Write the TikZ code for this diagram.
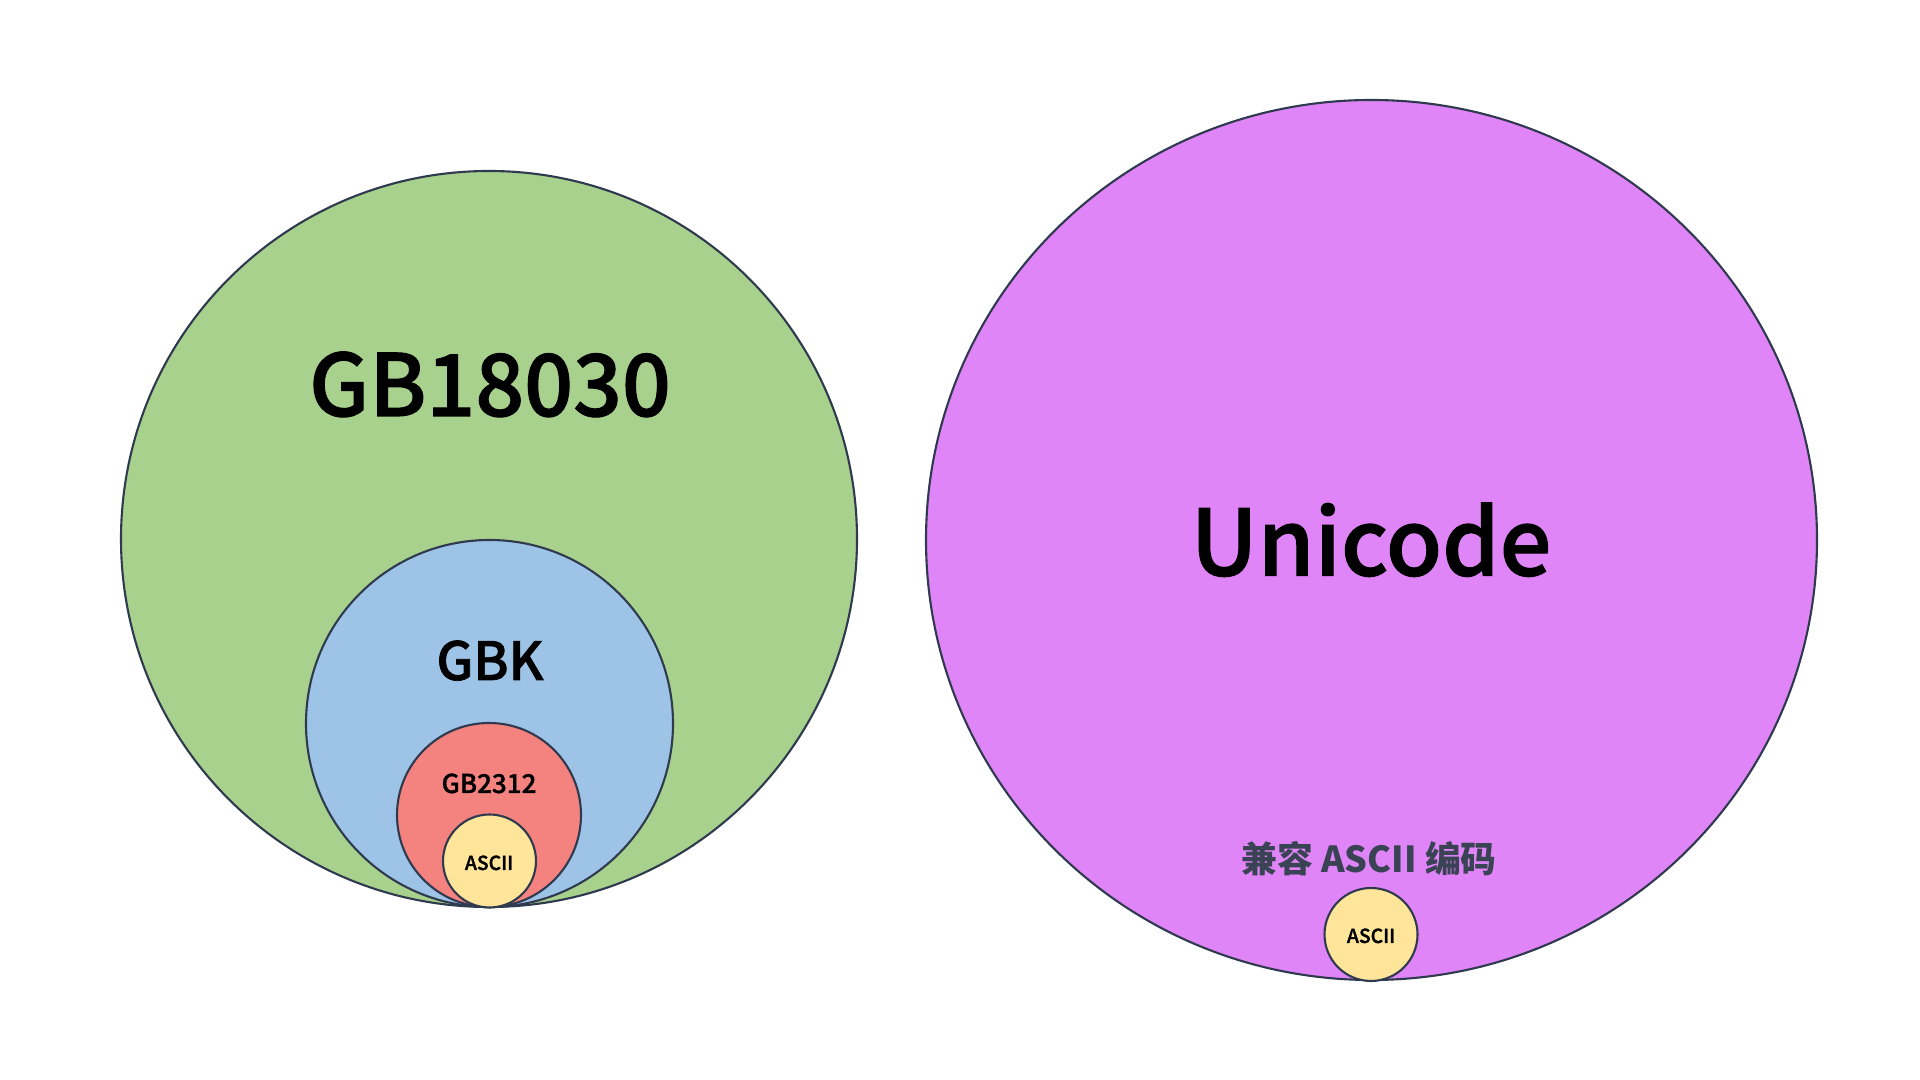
\documentclass[tikz,border=0pt]{standalone}
\usepackage{fontspec}
\setmainfont{Noto Sans CJK SC}
\newfontfamily\medfont{Noto Sans CJK SC Medium}[FakeBold=1.3]
\usepackage{tikz}
\usetikzlibrary{shapes.geometric}
\definecolor{setgreen}{HTML}{A8D18D}
\definecolor{setblue}{HTML}{9DC3E6}
\definecolor{setred}{HTML}{F4827F}
\definecolor{setyellow}{HTML}{FFE599}
\definecolor{setpurple}{HTML}{DF85F7}
\definecolor{setline}{HTML}{2F3A4F}
\definecolor{notegray}{HTML}{3A4354}
\tikzset{
  setcircle/.style={circle, draw=setline, line width=0.6pt, inner sep=0pt, minimum size=#1},
  setname/.style={anchor=base, inner sep=0pt, font=\medfont\fontsize{#1}{#1}\selectfont}
}
\begin{document}
\begin{tikzpicture}
\useasboundingbox (0,0) rectangle (19.2,10.8);

% GB family, nested
\node[setcircle=7.36cm, fill=setgreen] (gb18030) at (4.89,5.41) {};
\node[setcircle=3.67cm, fill=setblue] (gbk) at (4.895,3.565) {};
\node[setcircle=1.84cm, fill=setred] (gb2312) at (4.89,2.65) {};
\node[setcircle=0.93cm, fill=setyellow] (asciiL) at (4.895,2.19) {};

% Unicode
\node[ellipse, draw=setline, line width=0.6pt, inner sep=0pt, fill=setpurple,
      minimum width=8.91cm, minimum height=8.80cm] (unicode) at (13.715,5.40) {};
\node[setcircle=0.93cm, fill=setyellow] (asciiR) at (13.71,1.455) {};

% Labels
\node[setname=24.4pt] (lblgb18030) at (4.90,6.64) {GB18030};
\node[setname=15pt] (lblgbk) at (4.90,4.00) {GBK};
\node[setname=7.4pt] (lblgb2312) at (4.89,2.87) {GB2312};
\node[setname=5.5pt] (lblasciiL) at (4.89,2.10) {ASCII};
\node[setname=26pt] (lblunicode) at (13.71,5.045) {Unicode};
\node[anchor=base, inner sep=0pt, text=notegray, font=\bfseries\fontsize{10.2pt}{10.2pt}\selectfont] (lblcompat) at (13.69,2.07) {兼容 ASCII 编码};
\node[setname=5.5pt] (lblasciiR) at (13.71,1.37) {ASCII};
\end{tikzpicture}
\end{document}
